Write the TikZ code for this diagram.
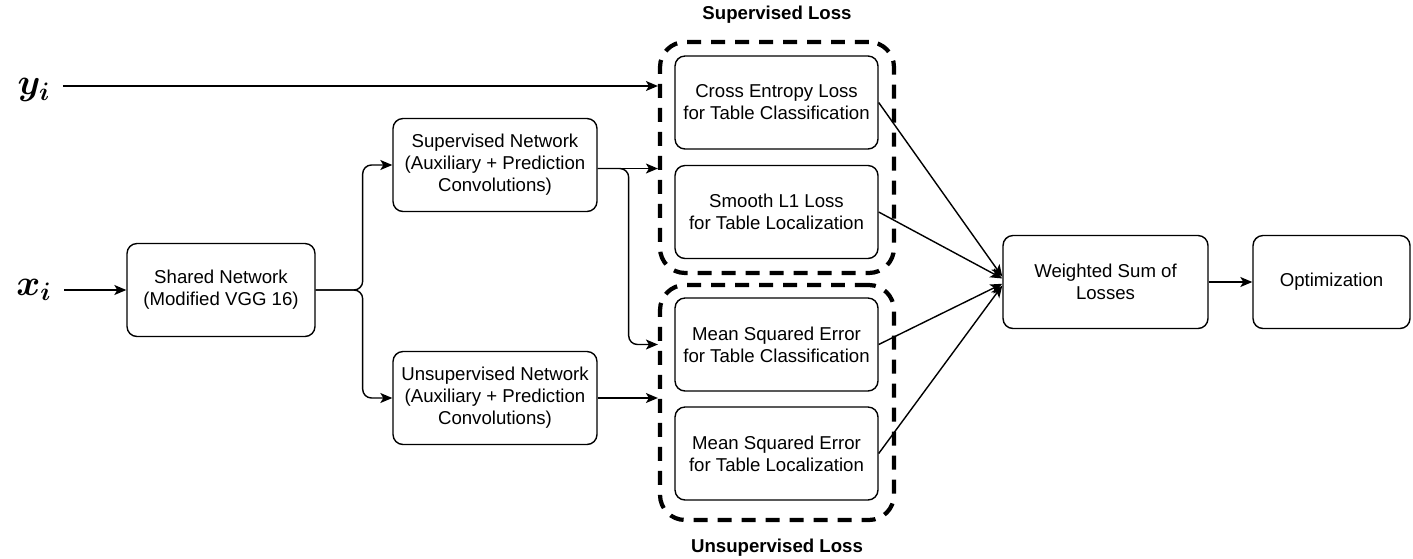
\documentclass[tikz,border=0pt]{standalone}
\usepackage{fontspec}
\setmainfont{Liberation Sans}
\usepackage{tikz}
\usetikzlibrary{shapes,arrows.meta,positioning}
\tikzset{>={Stealth[length=0.24cm, width=0.2cm, inset=0.06cm]}}
\usepackage{amsmath}
\usepackage{bm}
\tikzset{
    block/.style={draw, rounded corners=0.2cm, line width=0.8pt, align=center,
        minimum height=1.86cm, font=\fontsize{10.6}{12.5}\selectfont},
    lossgroup/.style={draw, dash pattern=on 0.28cm off 0.2cm, line width=2.4pt,
        rounded corners=0.5cm, inner sep=0pt},
    grouptitle/.style={font=\fontsize{10.6}{12.5}\selectfont\bfseries},
    invar/.style={font=\fontsize{22}{22}\selectfont, inner sep=1pt}
}

\begin{document}
\begin{tikzpicture}[x=0.02cm, y=-0.02cm, line width=0.8pt]
    \useasboundingbox (0,0) rectangle (1413,558);

    \node[invar] (yin) at (34,90) {$\bm{y_i}$};
    \node[invar] (xin) at (34,290) {$\bm{x_i}$};

    \node[block, minimum width=3.76cm] (shared) at (221,290) {Shared Network\\(Modified VGG 16)};
    \node[block, minimum width=4.08cm] (supnet) at (495,165) {Supervised Network\\(Auxiliary + Prediction\\Convolutions)};
    \node[block, minimum width=4.08cm] (unsupnet) at (495,398) {Unsupervised Network\\(Auxiliary + Prediction\\Convolutions)};

    \node[lossgroup, minimum width=4.68cm, minimum height=4.62cm,
        label={[grouptitle, label distance=0.2cm]above:Supervised Loss}] (supgrp) at (777,157.5) {};
    \node[lossgroup, minimum width=4.68cm, minimum height=4.7cm,
        label={[grouptitle, label distance=0.2cm]below:Unsupervised Loss}] (unsupgrp) at (777,402.5) {};

    \node[block, minimum width=4.06cm] (ce) at (776.5,102.5) {Cross Entropy Loss\\for Table Classification};
    \node[block, minimum width=4.06cm] (sl1) at (776.5,212) {Smooth L1 Loss\\for Table Localization};
    \node[block, minimum width=4.06cm] (msec) at (776.5,344.5) {Mean Squared Error\\for Table Classification};
    \node[block, minimum width=4.06cm] (msel) at (776.5,453.5) {Mean Squared Error\\for Table Localization};

    \node[block, minimum width=4.1cm] (wsum) at (1105.5,282) {Weighted Sum of\\Losses};
    \node[block, minimum width=3.14cm] (optim) at (1331.5,282) {Optimization};

    \draw[->] ([xshift=0.2cm]yin.east |- 0,86) -- (supgrp.west |- 0,86);
    \draw[->] ([xshift=0.2cm]xin.east |- shared.west) -- (shared.west);
    \draw[->, rounded corners=5pt] (shared.east) -- ++(47,0) |- (supnet.west);
    \draw[->, rounded corners=5pt] (shared.east) -- ++(47,0) |- (unsupnet.west);

    \draw[->] ([yshift=-2pt]supnet.east) -- ([yshift=-2pt]supnet.east -| supgrp.west);
    \draw[->, rounded corners=5pt] ([yshift=-2pt]supnet.east) -- ++(31,0) |- (msec.west -| unsupgrp.west);
    \draw[->] (unsupnet.east) -- (unsupnet.east -| unsupgrp.west);

    \draw[->] (ce.east) -- ([yshift=3pt]wsum.west);
    \draw[->] (sl1.east) -- ([yshift=2pt]wsum.west);
    \draw[->] (msec.east) -- ([yshift=-1pt]wsum.west);
    \draw[->] (msel.east) -- ([yshift=-2pt]wsum.west);
    \draw[->] (wsum) -- (optim);
\end{tikzpicture}
\end{document}
